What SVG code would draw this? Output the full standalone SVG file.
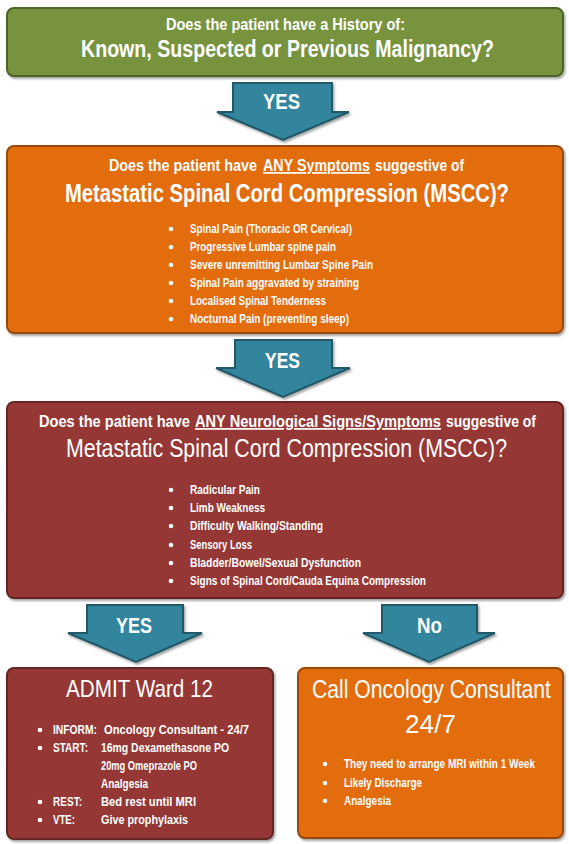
<svg xmlns="http://www.w3.org/2000/svg" width="569" height="844" viewBox="0 0 569 844">
<defs>
<filter id="sh" x="-5%" y="-5%" width="110%" height="115%">
<feDropShadow dx="1.5" dy="2" stdDeviation="1" flood-color="#000" flood-opacity="0.35"/>
</filter>
<style>
text{font-family:"Liberation Sans",Arial,sans-serif;fill:#fff;}
.b{font-weight:bold;}
.t1{font-size:14.5px;font-weight:bold;}
.t2{font-size:19.6px;font-weight:bold;}
.h{font-size:14.3px;font-weight:bold;}
.u{text-decoration:underline;}
.m2{font-size:20.2px;font-weight:bold;}
.m3{font-size:21.3px;}
.big{font-size:20.5px;}
.call{font-size:21.2px;}
.num{font-size:25px;}
.li{font-size:10px;font-weight:bold;}
.arw{fill:#31859C;stroke:#205867;stroke-width:2;stroke-linejoin:miter;}
.lbl{font-size:18.5px;font-weight:bold;}
.dot{fill:#fff;}
</style>
</defs>
<rect width="569" height="844" fill="#fff"/>

<g id="connectors">
<g id="arrow1">
<polygon class="arw" filter="url(#sh)" points="233,83 332,83 332,112 349,112 283,140 217,112 233,112"/>
<text class="lbl" x="263" y="109" transform="matrix(1 0 0 1.19 0 -20.71)" textLength="37" lengthAdjust="spacingAndGlyphs">YES</text>
</g>
<g id="arrow2">
<polygon class="arw" filter="url(#sh)" points="235,340 332,340 332,368 350,368 283,397 216,368 235,368"/>
<text class="lbl" x="265" y="368" transform="matrix(1 0 0 1.19 0 -69.92)" textLength="35" lengthAdjust="spacingAndGlyphs">YES</text>
</g>
<g id="arrow3">
<polygon class="arw" filter="url(#sh)" points="87,605 183,605 183,633 202,633 136,662 68,633 87,633"/>
<text class="lbl" x="116" y="633" transform="matrix(1 0 0 1.19 0 -120.27)" textLength="36" lengthAdjust="spacingAndGlyphs">YES</text>
</g>
<g id="arrow4">
<polygon class="arw" filter="url(#sh)" points="382,605 477,605 477,633 495,633 429,662 363,633 382,633"/>
<text class="lbl" x="417" y="633" transform="matrix(1 0 0 1.19 0 -120.27)" textLength="25" lengthAdjust="spacingAndGlyphs">No</text>
</g>
</g>

<g id="node-history">
<rect x="7" y="8" width="556" height="68" rx="7" fill="#77933C" stroke="#4F6228" stroke-width="2" filter="url(#sh)"/>
<text class="t1" x="166" y="30" transform="matrix(1 0 0 1.1 0 -3)" textLength="239" lengthAdjust="spacingAndGlyphs">Does the patient have a History of:</text>
<text class="t2" x="81" y="57" transform="matrix(1 0 0 1.22 0 -12.54)" textLength="413" lengthAdjust="spacingAndGlyphs">Known, Suspected or Previous Malignancy?</text>
</g>

<g id="node-symptoms">
<rect x="7" y="146" width="556" height="187" rx="7" fill="#E36C09" stroke="#984807" stroke-width="2" filter="url(#sh)"/>
<g transform="matrix(1 0 0 1.19 0 -32.49)">
<text class="h" x="109" y="171" textLength="148" lengthAdjust="spacingAndGlyphs">Does the patient have</text>
<text class="h u" x="263" y="171" textLength="107" lengthAdjust="spacingAndGlyphs">ANY Symptoms</text>
<text class="h" x="375" y="171" textLength="89" lengthAdjust="spacingAndGlyphs">suggestive of</text>
</g>
<text class="m2" x="65" y="202" transform="matrix(1 0 0 1.24 0 -48.48)" textLength="444" lengthAdjust="spacingAndGlyphs">Metastatic Spinal Cord Compression (MSCC)?</text>
<circle class="dot" cx="171" cy="229" r="2.3"/>
<text class="li" x="190" y="233" transform="matrix(1 0 0 1.3 0 -69.9)" textLength="162" lengthAdjust="spacingAndGlyphs">Spinal Pain (Thoracic OR Cervical)</text>
<circle class="dot" cx="171" cy="247" r="2.3"/>
<text class="li" x="190" y="251" transform="matrix(1 0 0 1.3 0 -75.3)" textLength="146" lengthAdjust="spacingAndGlyphs">Progressive Lumbar spine pain</text>
<circle class="dot" cx="171" cy="265" r="2.3"/>
<text class="li" x="190" y="269" transform="matrix(1 0 0 1.3 0 -80.7)" textLength="183" lengthAdjust="spacingAndGlyphs">Severe unremitting Lumbar Spine Pain</text>
<circle class="dot" cx="171" cy="283" r="2.3"/>
<text class="li" x="190" y="287" transform="matrix(1 0 0 1.3 0 -86.1)" textLength="169" lengthAdjust="spacingAndGlyphs">Spinal Pain aggravated by straining</text>
<circle class="dot" cx="171" cy="301" r="2.3"/>
<text class="li" x="190" y="305" transform="matrix(1 0 0 1.3 0 -91.5)" textLength="136" lengthAdjust="spacingAndGlyphs">Localised Spinal Tenderness</text>
<circle class="dot" cx="171" cy="319" r="2.3"/>
<text class="li" x="190" y="323" transform="matrix(1 0 0 1.3 0 -96.9)" textLength="159" lengthAdjust="spacingAndGlyphs">Nocturnal Pain (preventing sleep)</text>
</g>

<g id="node-neuro">
<rect x="7" y="402" width="556" height="196" rx="7" fill="#953735" stroke="#632523" stroke-width="2" filter="url(#sh)"/>
<g transform="matrix(1 0 0 1.19 0 -81.13)">
<text class="h" x="39" y="427" textLength="151" lengthAdjust="spacingAndGlyphs">Does the patient have</text>
<text class="h u" x="195" y="427" textLength="246" lengthAdjust="spacingAndGlyphs">ANY Neurological Signs/Symptoms</text>
<text class="h" x="446" y="427" textLength="90" lengthAdjust="spacingAndGlyphs">suggestive of</text>
</g>
<text class="m3" x="66" y="457" transform="matrix(1 0 0 1.17 0 -77.69)" textLength="441" lengthAdjust="spacingAndGlyphs">Metastatic Spinal Cord Compression (MSCC)?</text>
<circle class="dot" cx="171" cy="490" r="2.3"/>
<text class="li" x="190" y="494" transform="matrix(1 0 0 1.3 0 -148.2)" textLength="70" lengthAdjust="spacingAndGlyphs">Radicular Pain</text>
<circle class="dot" cx="171" cy="508" r="2.3"/>
<text class="li" x="190" y="512" transform="matrix(1 0 0 1.3 0 -153.6)" textLength="75" lengthAdjust="spacingAndGlyphs">Limb Weakness</text>
<circle class="dot" cx="171" cy="526" r="2.3"/>
<text class="li" x="190" y="530" transform="matrix(1 0 0 1.3 0 -159)" textLength="133" lengthAdjust="spacingAndGlyphs">Difficulty Walking/Standing</text>
<circle class="dot" cx="171" cy="545" r="2.3"/>
<text class="li" x="190" y="549" transform="matrix(1 0 0 1.3 0 -164.7)" textLength="62" lengthAdjust="spacingAndGlyphs">Sensory Loss</text>
<circle class="dot" cx="171" cy="563" r="2.3"/>
<text class="li" x="190" y="567" transform="matrix(1 0 0 1.3 0 -170.1)" textLength="171" lengthAdjust="spacingAndGlyphs">Bladder/Bowel/Sexual Dysfunction</text>
<circle class="dot" cx="171" cy="581" r="2.3"/>
<text class="li" x="190" y="585" transform="matrix(1 0 0 1.3 0 -175.5)" textLength="236" lengthAdjust="spacingAndGlyphs">Signs of Spinal Cord/Cauda Equina Compression</text>
</g>

<g id="node-admit">
<rect x="7" y="668" width="266" height="171" rx="7" fill="#953735" stroke="#632523" stroke-width="2" filter="url(#sh)"/>
<text class="big" x="66" y="697" transform="matrix(1 0 0 1.2 0 -139.4)" textLength="147" lengthAdjust="spacingAndGlyphs">ADMIT Ward 12</text>
<circle class="dot" cx="40" cy="730" r="2.3"/>
<g transform="matrix(1 0 0 1.3 0 -220.2)">
<text class="li" x="53" y="734" textLength="44" lengthAdjust="spacingAndGlyphs">INFORM:</text>
<text class="li" x="104" y="734" textLength="145" lengthAdjust="spacingAndGlyphs">Oncology Consultant  - 24/7</text>
</g>
<circle class="dot" cx="40" cy="748" r="2.3"/>
<g transform="matrix(1 0 0 1.3 0 -225.6)">
<text class="li" x="53" y="752" textLength="35" lengthAdjust="spacingAndGlyphs">START:</text>
<text class="li" x="101" y="752" textLength="128" lengthAdjust="spacingAndGlyphs">16mg Dexamethasone PO</text>
</g>
<text class="li" x="101" y="770" transform="matrix(1 0 0 1.3 0 -231)" textLength="96" lengthAdjust="spacingAndGlyphs">20mg Omeprazole PO</text>
<text class="li" x="101" y="788" transform="matrix(1 0 0 1.3 0 -236.4)" textLength="47" lengthAdjust="spacingAndGlyphs">Analgesia</text>
<circle class="dot" cx="40" cy="802" r="2.3"/>
<g transform="matrix(1 0 0 1.3 0 -241.8)">
<text class="li" x="53" y="806" textLength="29" lengthAdjust="spacingAndGlyphs">REST:</text>
<text class="li" x="101" y="806" textLength="95" lengthAdjust="spacingAndGlyphs">Bed rest until MRI</text>
</g>
<circle class="dot" cx="40" cy="820" r="2.3"/>
<g transform="matrix(1 0 0 1.3 0 -247.2)">
<text class="li" x="53" y="824" textLength="22" lengthAdjust="spacingAndGlyphs">VTE:</text>
<text class="li" x="101" y="824" textLength="87" lengthAdjust="spacingAndGlyphs">Give prophylaxis</text>
</g>
</g>

<g id="node-call">
<rect x="298" y="668" width="265" height="170" rx="7" fill="#E36C09" stroke="#984807" stroke-width="2" filter="url(#sh)"/>
<text class="call" x="312" y="698" transform="matrix(1 0 0 1.18 0 -125.64)" textLength="239" lengthAdjust="spacingAndGlyphs">Call Oncology Consultant</text>
<text class="num" x="405" y="733" textLength="51" lengthAdjust="spacingAndGlyphs">24/7</text>
<circle class="dot" cx="325" cy="764" r="2.3"/>
<text class="li" x="344" y="768" transform="matrix(1 0 0 1.3 0 -230.4)" textLength="191" lengthAdjust="spacingAndGlyphs">They need to arrange MRI within 1 Week</text>
<circle class="dot" cx="325" cy="783" r="2.3"/>
<text class="li" x="344" y="787" transform="matrix(1 0 0 1.3 0 -236.1)" textLength="78" lengthAdjust="spacingAndGlyphs">Likely Discharge</text>
<circle class="dot" cx="325" cy="801" r="2.3"/>
<text class="li" x="344" y="805" transform="matrix(1 0 0 1.3 0 -241.5)" textLength="47" lengthAdjust="spacingAndGlyphs">Analgesia</text>
</g>
</svg>
